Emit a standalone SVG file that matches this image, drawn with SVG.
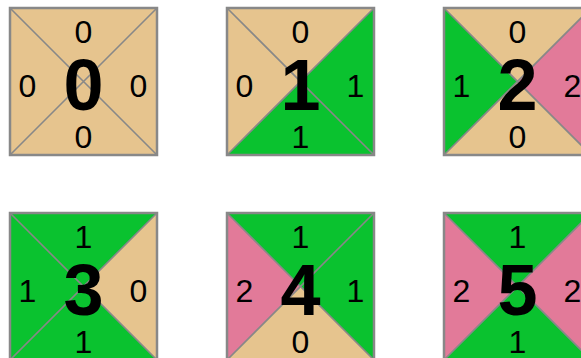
<svg xmlns="http://www.w3.org/2000/svg" width="581" height="358" viewBox="0 0 581 358">
<style>
.t{fill:#E6C48E}.g{fill:#0AC22F}.p{fill:#E27A99}
.d{stroke:#888;stroke-width:1.6;fill:none}
.b{stroke:#888;stroke-width:2.5;fill:none}
.l{font-family:"Liberation Sans",Arial,sans-serif;font-size:32px;fill:#000;text-anchor:middle}
.n{font-family:"Liberation Sans",Arial,sans-serif;font-size:72px;font-weight:bold;fill:#000;text-anchor:middle}
</style>
<defs>
<polygon id="T" points="0,0 147,0 73.5,73.5"/>
<polygon id="R" points="147,0 147,147 73.5,73.5"/>
<polygon id="B" points="0,147 147,147 73.5,73.5"/>
<polygon id="L" points="0,0 0,147 73.5,73.5"/>
<g id="frame"><path class="d" d="M0,0L147,147M147,0L0,147"/><rect class="b" x="0" y="0" width="147" height="147"/></g>
</defs>
<g id="tile0" transform="translate(10,8)">
<use href="#T" class="t"/><use href="#R" class="t"/><use href="#B" class="t"/><use href="#L" class="t"/>
<use href="#frame"/>
<text class="l" x="73.5" y="35">0</text><text class="l" x="128.5" y="89">0</text><text class="l" x="73.5" y="140">0</text><text class="l" x="17.5" y="89">0</text>
<text class="n" x="73.5" y="102">0</text>
</g>
<g id="tile1" transform="translate(227,8)">
<use href="#T" class="t"/><use href="#R" class="g"/><use href="#B" class="g"/><use href="#L" class="t"/>
<use href="#frame"/>
<text class="l" x="73.5" y="35">0</text><text class="l" x="128.5" y="89">1</text><text class="l" x="73.5" y="140">1</text><text class="l" x="17.5" y="89">0</text>
<text class="n" x="73.5" y="102">1</text>
</g>
<g id="tile2" transform="translate(444,8)">
<use href="#T" class="t"/><use href="#R" class="p"/><use href="#B" class="t"/><use href="#L" class="g"/>
<use href="#frame"/>
<text class="l" x="73.5" y="35">0</text><text class="l" x="128.5" y="89">2</text><text class="l" x="73.5" y="140">0</text><text class="l" x="17.5" y="89">1</text>
<text class="n" x="73.5" y="102">2</text>
</g>
<g id="tile3" transform="translate(10,213)">
<use href="#T" class="g"/><use href="#R" class="t"/><use href="#B" class="g"/><use href="#L" class="g"/>
<use href="#frame"/>
<text class="l" x="73.5" y="35">1</text><text class="l" x="128.5" y="89">0</text><text class="l" x="73.5" y="140">1</text><text class="l" x="17.5" y="89">1</text>
<text class="n" x="73.5" y="102">3</text>
</g>
<g id="tile4" transform="translate(227,213)">
<use href="#T" class="g"/><use href="#R" class="g"/><use href="#B" class="t"/><use href="#L" class="p"/>
<use href="#frame"/>
<text class="l" x="73.5" y="35">1</text><text class="l" x="128.5" y="89">1</text><text class="l" x="73.5" y="140">0</text><text class="l" x="17.5" y="89">2</text>
<text class="n" x="73.5" y="102">4</text>
</g>
<g id="tile5" transform="translate(444,213)">
<use href="#T" class="g"/><use href="#R" class="p"/><use href="#B" class="g"/><use href="#L" class="p"/>
<use href="#frame"/>
<text class="l" x="73.5" y="35">1</text><text class="l" x="128.5" y="89">2</text><text class="l" x="73.5" y="140">1</text><text class="l" x="17.5" y="89">2</text>
<text class="n" x="73.5" y="102">5</text>
</g>
<g id="connectors"/>
</svg>
